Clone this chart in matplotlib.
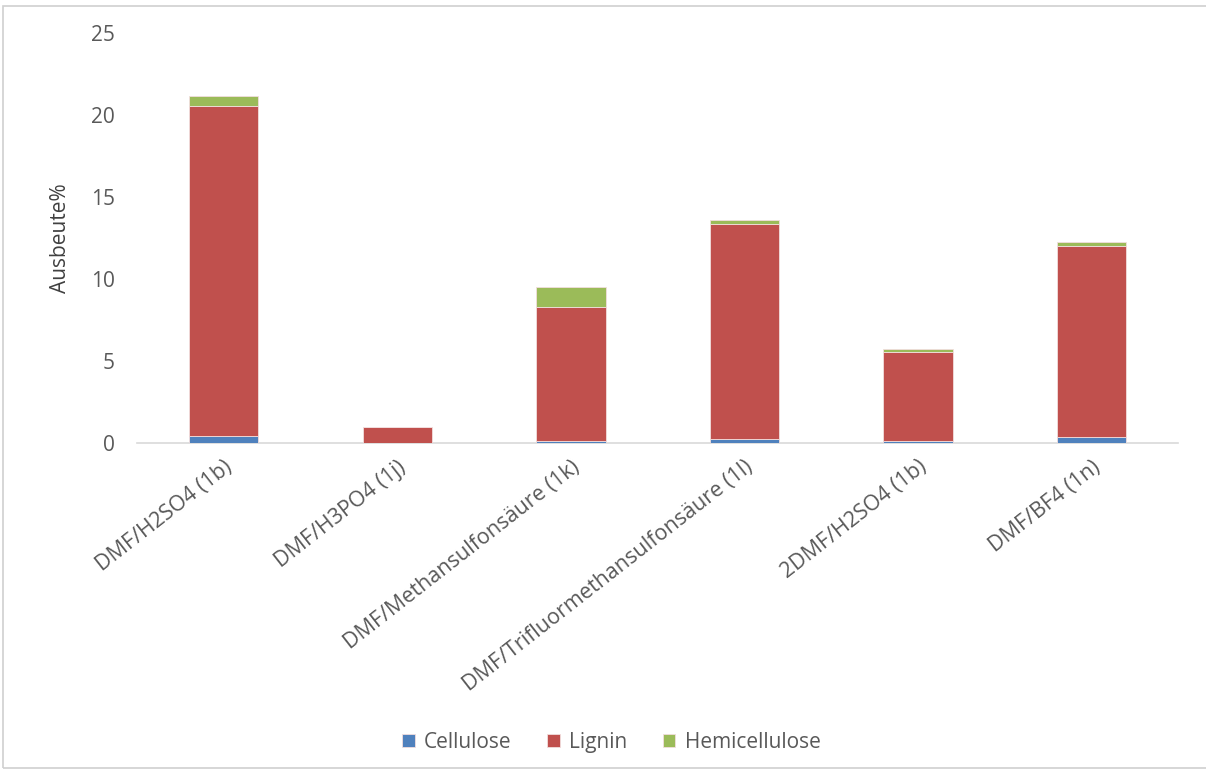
import matplotlib
matplotlib.use("Agg")
import matplotlib.pyplot as plt
from matplotlib.patches import Rectangle
import numpy as np

plt.rcParams['font.family'] = ['Open Sans', 'DejaVu Sans']

categories = [
    "DMF/H2SO4 (1b)",
    "DMF/H3PO4 (1j)",
    "DMF/Methansulfonsäure (1k)",
    "DMF/Trifluormethansulfonsäure (1l)",
    "2DMF/H2SO4 (1b)",
    "DMF/BF4 (1n)",
]
cellulose = [0.40, 0.00, 0.10, 0.23, 0.08, 0.33]
lignin = [20.17, 0.96, 8.19, 13.14, 5.44, 11.66]
hemicellulose = [0.59, 0.00, 1.21, 0.20, 0.23, 0.24]
series_names = ["Cellulose", "Lignin", "Hemicellulose"]
colors = ["#4F81BD", "#C0504D", "#9BBB59"]
y_ticks = [0, 5, 10, 15, 20, 25]

fig = plt.figure(figsize=(12.06, 7.74), dpi=100)
ax = fig.add_axes([0.1136, 0.428, 0.977 - 0.1136, 0.957 - 0.428])

x = np.arange(len(categories))
w = 0.4
bottom = np.zeros(len(categories))
handles = []
for vals, name, col in zip([cellulose, lignin, hemicellulose], series_names, colors):
    b = ax.bar(x, vals, w, bottom=bottom, color=col, edgecolor="#f2dede",
               linewidth=0.6, label=name, zorder=3)
    handles.append(b)
    bottom = bottom + np.array(vals)

ax.set_xlim(-0.5, len(categories) - 0.5)
ax.set_ylim(0, 25)
ax.set_yticks(y_ticks)
ax.set_yticklabels([str(t) for t in y_ticks], fontsize=15, color="#595959")
ax.set_xticks(x)
ax.set_xticklabels(categories, rotation=38, ha="right", rotation_mode="anchor",
                   fontsize=15.5, color="#595959")
ax.tick_params(axis="both", length=0)
ax.tick_params(axis="y", pad=16)
ax.tick_params(axis="x", pad=10)

for s in ["top", "right", "left"]:
    ax.spines[s].set_visible(False)
ax.spines["bottom"].set_color("#d9d9d9")
ax.spines["bottom"].set_linewidth(1.2)

ax.set_ylabel("Ausbeute%", fontsize=15, color="#404040")
ax.yaxis.set_label_coords(-0.063, 0.5)

leg = fig.legend(handles=handles, labels=series_names, loc="center",
                 bbox_to_anchor=(0.507, 0.041), ncol=3, frameon=False,
                 fontsize=15, handlelength=0.6, handleheight=0.6,
                 handletextpad=0.45, columnspacing=1.7)
for t in leg.get_texts():
    t.set_color("#595959")

# light outer frame
fig.patches.append(Rectangle((3 / 1206, 6 / 774), 1.0, 1 - 12 / 774,
                             transform=fig.transFigure, fill=False,
                             edgecolor="#d0d0d0", linewidth=1.2))

fig.savefig("out.png", dpi=100)
